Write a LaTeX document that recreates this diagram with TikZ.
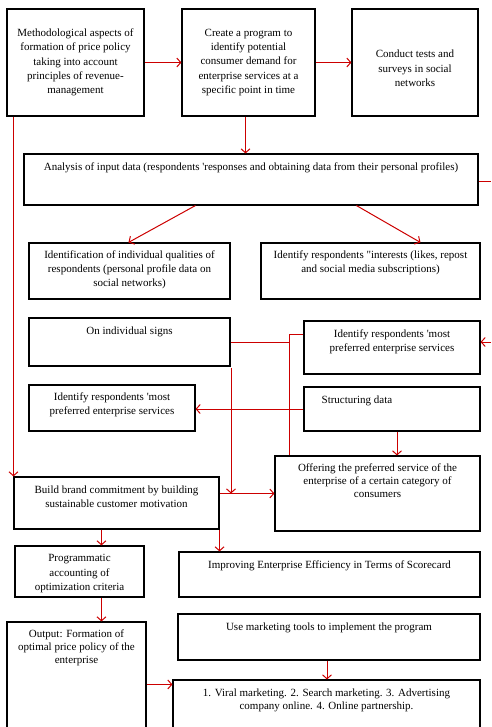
\documentclass[tikz,border=0pt]{standalone}
\usepackage{fontspec}
\setmainfont{Liberation Serif}
\usetikzlibrary{arrows.meta}
\usetikzlibrary{positioning}

\definecolor{linkred}{RGB}{204,0,0}

\tikzset{
    box/.style={draw=black, line width=1.1pt, rectangle, inner sep=0pt},
    txt/.style={anchor=north, align=center, inner sep=0pt, font=\fontsize{11}{14.3}\selectfont},
    link/.style={draw=linkred, line width=1pt},
    arr/.style={link, -{Straight Barb[length=4pt,width=9pt]}}
}

\begin{document}
\begin{tikzpicture}[x=1pt, y=-1pt]
                    \useasboundingbox (0,0) rectangle (491,727);
                    \clip (0,0) rectangle (491,727);

                    % top row
                    \node[box, minimum width=137pt, minimum height=107pt, align=center, font=\fontsize{11}{14.3}\selectfont](meth)at(75.5, 62.5){Methodological aspects of\\formation of price policy\\taking into account\\principles of revenue-\\management};
                    \node[box, minimum width=133pt, minimum height=107pt, align=center, font=\fontsize{11}{14.3}\selectfont](prog)at(248.5, 62.5){Create a program to\\identify potential\\consumer demand for\\enterprise services at a\\specific point in time};
                    \node[box, minimum width=126pt, minimum height=107pt](tests)at(415, 62.5){};
                    \node[txt, anchor=center](tests-t)at([yshift=-6pt]tests.center){Conduct tests and\\surveys in social\\networks};

                    \node[box, minimum width=454pt, minimum height=51pt](anal)at(251, 179.5){};
                    \node[txt](anal-t)at([yshift=-9pt]anal.north){Analysis of input data (respondents \textquotesingle responses and obtaining data from their personal profiles)};

                    % respondents
                    \node[box, minimum width=201pt, minimum height=56pt](qual)at(129.5, 271){};
                    \node[txt](qual-t)at([yshift=-8pt]qual.north){Identification of individual qualities of\\respondents (personal profile data on\\social networks)};
                    \node[box, minimum width=219pt, minimum height=56pt](intr)at(370.5, 271){};
                    \node[txt](intr-t)at([yshift=-8pt]intr.north){Identify respondents \textquotedbl interests (likes, repost\\and social media subscriptions)};

                    \node[box, minimum width=201pt, minimum height=48pt](signs)at(129.5, 342){};
                    \node[txt](signs-t)at([yshift=-9pt]signs.north){On individual signs};
                    \node[box, minimum width=176pt, minimum height=53pt](prefr)at(392, 347.5){};
                    \node[txt](prefr-t)at([yshift=-9pt]prefr.north){Identify respondents \textquotesingle most\\preferred enterprise services};

                    \node[box, minimum width=166pt, minimum height=46pt](prefl)at(112, 408){};
                    \node[txt](prefl-t)at([yshift=-8pt]prefl.north){Identify respondents \textquotesingle most\\preferred enterprise services};
                    \node[box, minimum width=176pt, minimum height=44pt](struct)at(392, 409){};
                    \node[txt, anchor=north west](struct-t)at([xshift=18pt, yshift=-9pt]struct.north west){Structuring data};

                    % offers and brand
                    \node[box, minimum width=205pt, minimum height=75pt](offer)at(377.5, 493.5){};
                    \node[txt, font=\fontsize{11}{12.8}\selectfont](offer-t)at([yshift=-8pt]offer.north){Offering the preferred service of the\\enterprise of a certain category of\\consumers};
                    \node[box, minimum width=205pt, minimum height=52pt](brand)at(116.5, 503){};
                    \node[txt](brand-t)at([yshift=-9pt]brand.north){Build brand commitment by building\\sustainable customer motivation};

                    \node[box, minimum width=129pt, minimum height=51pt](crit)at(79.5, 571.5){};
                    \node[txt](crit-t)at([yshift=-9pt]crit.north){Programmatic\\accounting of\\optimization criteria};
                    \node[box, minimum width=301pt, minimum height=45pt](effic)at(329.5, 574.5){};
                    \node[txt](effic-t)at([yshift=-9pt]effic.north){Improving Enterprise Efficiency in Terms of Scorecard};

                    % bottom
                    \node[box, minimum width=139pt, minimum height=138pt](outp)at(76.5, 691){};
                    \node[txt, font=\fontsize{11}{12.8}\selectfont](outp-t)at([yshift=-8pt]outp.north){Output: Formation of\\optimal price policy of the\\enterprise};
                    \node[box, minimum width=302pt, minimum height=46pt](tools)at(329, 637){};
                    \node[txt](tools-t)at([yshift=-9pt]tools.north){Use marketing tools to implement the program};
                    \node[box, minimum width=307pt, minimum height=80pt](mark)at(326.5, 720){};
                    \node[txt, font=\fontsize{11}{12.8}\selectfont](mark-t)at([yshift=-9pt]mark.north){1. Viral marketing. 2. Search marketing. 3. Advertising\\company online. 4. Online partnership.};

                    % free ends and junctions
                    \coordinate(edge1)at(491, 182);
                    \coordinate(edge2)at(491, 342);
                    \coordinate(junc1)at(289, 334);
                    \coordinate(junc2)at(231, 368);

                    % connectors
                    \draw[arr](meth)--(prog);
                    \draw[arr](prog.east)--(prog.east -| tests.west);
                    \draw[arr]([xshift=-3pt]prog.south)--([xshift=-3pt]prog.south |- anal.north);
                    \draw[link]([yshift=-2.5pt]anal.east)--(edge1);
                    \draw[arr]([xshift=172pt]anal.south west)--([xshift=100pt]qual.north west);
                    \draw[arr]([xshift=333pt]anal.south west)--([xshift=160pt]intr.north west);

                    \draw[link](signs.east)--(signs.east -| junc1);
                    \draw[link](prefr.west |- junc1)--(junc1)--(junc1 |- offer.north);
                    \draw[arr](edge2)--(edge2 -| prefr.east);
                    \draw[arr](struct.west)--(struct.west -| prefl.east);
                    \draw[arr]([xshift=5pt]struct.south)--([xshift=5pt]struct.south |- offer.north);
                    \draw[arr](junc2)--(junc2 |- offer.west);

                    \draw[arr]([xshift=7pt]meth.south west)--([xshift=7pt]meth.south west |- brand.north);
                    \draw[arr](brand.east |- offer.west)--(offer.west);
                    \draw[arr]([xshift=88pt]brand.south west)--([xshift=88pt]brand.south west |- crit.north);
                    \draw[arr](brand.south east)--(brand.south east |- effic.north);
                    \draw[arr]([xshift=87pt]crit.south west)--([xshift=87pt]crit.south west |- outp.north);
                    \draw[arr]([xshift=-2pt]tools.south)--([xshift=-2pt]tools.south |- mark.north);
                    \draw[arr]([yshift=-63pt]outp.north east)--([yshift=-63pt]outp.north east -| mark.west);
                \end{tikzpicture}
\end{document}
